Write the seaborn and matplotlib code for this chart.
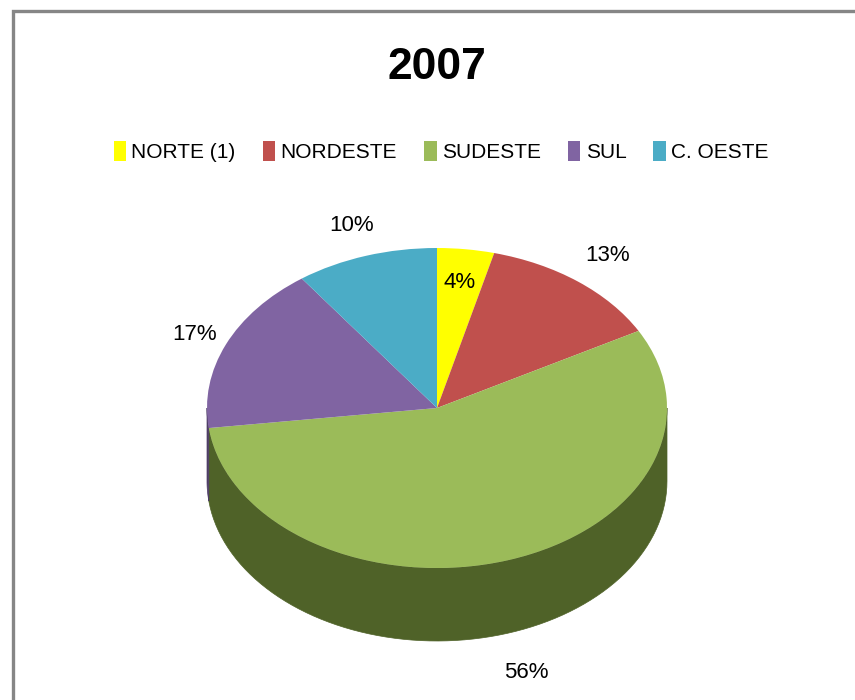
import numpy as np
import matplotlib
matplotlib.use('Agg')
import matplotlib.pyplot as plt
from matplotlib.patches import Polygon, Rectangle
from matplotlib.transforms import Affine2D
import seaborn as sns

# Data
title = '2007'
regions = ['NORTE (1)', 'NORDESTE', 'SUDESTE', 'SUL', 'C. OESTE']
shares = [4, 13, 56, 17, 10]

top_colors = ['#FFFF00', '#C0504D', '#9BBB59', '#8064A2', '#4BACC6']
side_colors = ['#9A9A00', '#7A2E2C', '#4F6228', '#4E3D66', '#2C7A8E']
label_radius = [0.79, 1.21, 1.26, 1.15, 1.2]

sns.set_theme(style='white')
plt.rcParams['font.family'] = ['Liberation Sans Narrow', 'Liberation Sans', 'DejaVu Sans']
plt.rcParams['text.color'] = 'black'

# 3D look: vertical squash of the top ellipse and depth of the wall
squash = 160 / 230
depth = 73 / 230

fig = plt.figure(figsize=(8.55, 7), dpi=100)
ax = fig.add_axes([0, 0, 1, 1])

# top of the pie, squashed into an ellipse
wedges, _ = ax.pie(
    shares,
    colors=top_colors,
    startangle=90,
    counterclock=False,
    radius=1,
    center=(0, 0),
    wedgeprops=dict(linewidth=0),
)
squash_tr = Affine2D().scale(1, squash) + ax.transData
for w in wedges:
    w.set_transform(squash_tr)
    w.set_zorder(3)

# side walls for the front half
total = float(sum(shares))
edges = 90 - np.cumsum([0] + shares) * 360 / total
for i in range(len(shares)):
    hi, lo = edges[i], edges[i + 1]
    a0, a1 = max(lo, -180), min(hi, 0)
    if a0 >= a1:
        continue
    t = np.radians(np.linspace(a0, a1, 80))
    xs = np.cos(t)
    ys = squash * np.sin(t)
    pts = np.concatenate([
        np.column_stack([xs, ys]),
        np.column_stack([xs[::-1], ys[::-1] - depth]),
    ])
    ax.add_patch(Polygon(pts, closed=True, facecolor=side_colors[i],
                         edgecolor=side_colors[i], linewidth=0.5, zorder=2))

# percentage labels
for i, v in enumerate(shares):
    mid = np.radians((edges[i] + edges[i + 1]) / 2)
    r = label_radius[i]
    lx = r * np.cos(mid)
    ly = r * np.sin(mid) * squash
    if np.sin(mid) < 0:
        ly -= depth
    ax.text(lx, ly, f'{v / total * 100:.0f}%', ha='center', va='center',
            fontsize=16, color='black', zorder=5)

ax.set_aspect('auto')
ax.set_xlim(-437 / 230, 418 / 230)
ax.set_ylim(-292 / 230, 408 / 230)
ax.axis('off')

fig.text(0.511, 0.903, title, ha='center', va='center',
         fontsize=32, fontweight='bold', color='black')

fig.legend(
    wedges, regions,
    loc='center', bbox_to_anchor=(0.516, 0.783),
    ncol=5, frameon=False, fontsize=15,
    handlelength=0.6, handleheight=1.1,
    handletextpad=0.25, columnspacing=1.3,
)

# chart frame (only top and left edges are in view)
fig.add_artist(Rectangle((13 / 855, -0.2), 1.2, 1.2 - 11 / 700,
                         transform=fig.transFigure, fill=False,
                         edgecolor='#868686', linewidth=2.4))

fig.savefig('out.png', dpi=100)
